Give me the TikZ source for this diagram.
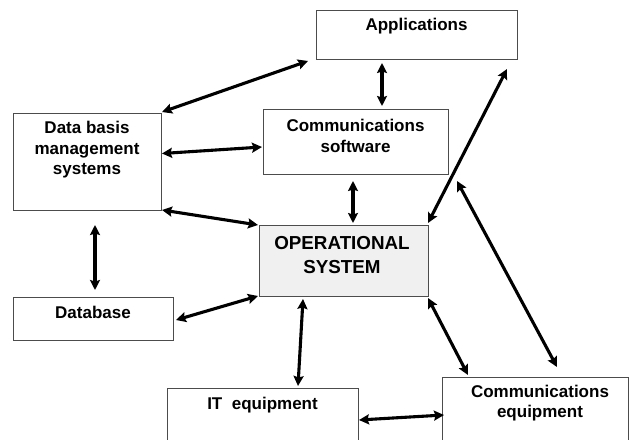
\documentclass[tikz,border=0pt]{standalone}
\usepackage{fontspec}
\setmainfont{Liberation Sans}
\usetikzlibrary{arrows.meta,calc}
\begin{document}
\begin{tikzpicture}[x=1pt,y=-1pt,
  box/.style={draw=black!70,line width=0.9pt,rectangle,inner sep=0pt,outer sep=0pt},
  lbl/.style={inner sep=0pt,align=center,font=\fontsize{17}{20.5}\selectfont\bfseries},
  biglbl/.style={inner sep=0pt,align=center,font=\fontsize{18.8}{24}\selectfont\bfseries},
  link/.style={line width=3.1pt,{Stealth[length=10pt,width=10pt,inset=1.5pt]}-{Stealth[length=10pt,width=10pt,inset=1.5pt]}}]
\useasboundingbox (0,0) rectangle (629,439);
% boxes
\node[box,minimum width=201pt,minimum height=49pt] (app) at (416.5,34.5) {};
\node[box,minimum width=148pt,minimum height=97pt] (dbms) at (87,161.5) {};
\node[box,minimum width=185pt,minimum height=65pt] (cs) at (355.5,141.5) {};
\node[box,fill=black!6,minimum width=169pt,minimum height=71pt] (os) at (343.5,260.5) {};
\node[box,minimum width=160pt,minimum height=43pt] (db) at (93,318.5) {};
\node[box,minimum width=191pt,minimum height=72pt] (it) at (262.5,424) {};
\node[box,minimum width=186pt,minimum height=83pt] (ce) at (535,418.5) {};
% labels
\node[lbl] (appT) at (416.5,26) {Applications};
\node[lbl] (dbmsT) at (87,150) {Data basis\\management\\systems};
\node[lbl] (csT) at (355.5,136) {Communications\\software};
\node[biglbl] (osT) at (342,255) {OPERATIONAL\\SYSTEM};
\node[lbl] (dbT) at (93,312) {Database};
\node[lbl] (itT) at (262.5,405) {IT\ \ equipment};
\node[lbl] (ceT) at (540,403) {Communications\\equipment};
% connectors
\draw[link] ($(app.south west)+(-8,2)$) -- ($(dbms.north east)+(1,-1)$);
\draw[link] ($(app.south west)+(66,4)$) -- ($(cs.north west)+(119,-3)$);
\draw[link] ($(dbms.east)+(1,-8)$) -- ($(cs.west)+(-1,5.5)$);
\draw[link] ($(dbms.south east)+(1,0)$) -- ($(os.north west)+(-1,0)$);
\draw[link] ($(cs.south west)+(90,7)$) -- ($(os.north west)+(94,-2)$);
\draw[link] ($(app.south east)+(-10,10)$) -- ($(os.north east)+(0,-2)$);
\draw[link] ($(cs.south east)+(9,7)$) -- ($(ce.north west)+(115,-10)$);
\draw[link] ($(os.south east)+(0,2)$) -- ($(ce.north west)+(26,-2)$);
\draw[link] ($(os.south west)+(44,3)$) -- ($(it.north west)+(131,-2)$);
\draw[link] ($(db.east)+(3,1.5)$) -- ($(os.south west)+(-1,0)$);
\draw[link] ($(dbms.south west)+(82,15)$) -- ($(db.north west)+(82,-7)$);
\draw[link] ($(it.north east)+(1,32)$) -- ($(ce.north west)+(2,38)$);
\end{tikzpicture}
\end{document}
